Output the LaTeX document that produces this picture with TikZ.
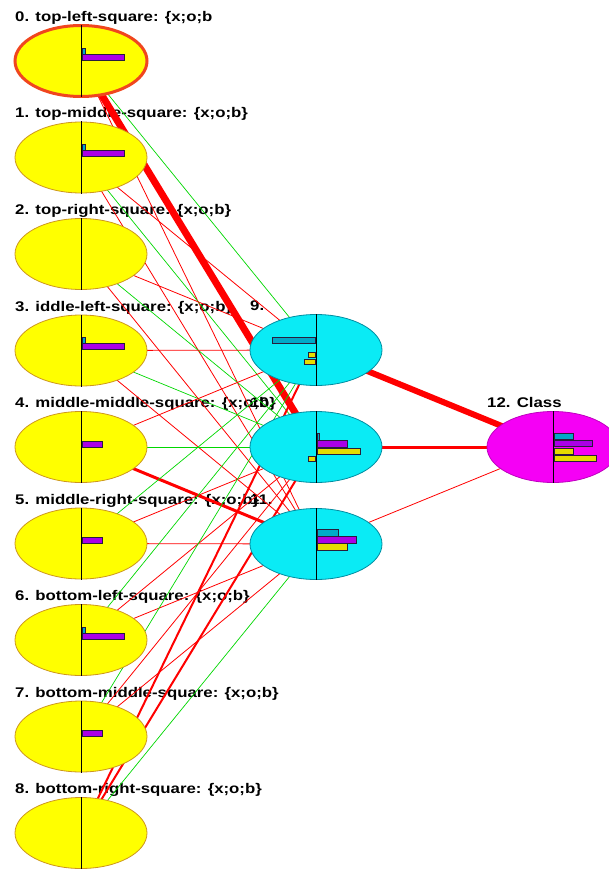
\documentclass[tikz,border=0pt]{standalone}
\usepackage{fontspec}
\setmainfont{Liberation Sans}[FakeStretch=1.2]
\usetikzlibrary{shapes.geometric, calc}
\pgfdeclarelayer{labels}
\pgfdeclarelayer{edges}
\pgfsetlayers{labels,edges,main}

\begin{document}
\begin{tikzpicture}[x=1pt,y=-1pt]
\definecolor{nodeyellow}{RGB}{255,255,0}
\definecolor{rimyellow}{RGB}{205,150,30}
\definecolor{nodecyan}{RGB}{10,235,245}
\definecolor{rimcyan}{RGB}{0,140,160}
\definecolor{nodemagenta}{RGB}{245,0,245}
\definecolor{rimmagenta}{RGB}{190,0,190}
\definecolor{rimselect}{RGB}{240,70,30}
\definecolor{barteal}{RGB}{0,170,200}
\definecolor{barpurple}{RGB}{170,0,230}
\definecolor{baryellow}{RGB}{230,220,0}
\definecolor{barline}{RGB}{40,30,60}
\definecolor{wred}{RGB}{255,0,0}
\definecolor{wgreen}{RGB}{0,215,0}
\useasboundingbox (0,0) rectangle (608,869);
\tikzstyle{unit}=[ellipse, minimum width=132pt, minimum height=71pt, inner sep=0pt]
\tikzstyle{inputunit}=[unit, fill=nodeyellow, draw=rimyellow, line width=0.8pt]
\tikzstyle{hiddenunit}=[unit, fill=nodecyan, draw=rimcyan, line width=0.8pt]
\tikzstyle{classunit}=[unit, fill=nodemagenta, draw=rimmagenta, line width=0.8pt]
\tikzstyle{caption}=[anchor=base west, inner sep=0pt,
                     font=\bfseries\fontsize{14}{16}\selectfont]
\tikzstyle{wneg}=[draw=wred, line width=0.8pt]
\tikzstyle{wnegA}=[draw=wred, line width=7pt]
\tikzstyle{wnegB}=[draw=wred, line width=3pt]
\tikzstyle{wnegC}=[draw=wred, line width=2pt]
\tikzstyle{wpos}=[draw=wgreen, line width=0.7pt]
\tikzstyle{bar}=[draw=barline, line width=0.6pt]

\node[inputunit, draw=rimselect, line width=3pt] (in0) at (81,61) {};
\foreach \i in {1,...,8} {
	\node[inputunit] (in\i) at (81,{61+96.5*\i}) {};
}
\node[hiddenunit] (hid9) at (316,350) {};
\node[hiddenunit] (hid10) at (316,447) {};
\node[hiddenunit] (hid11) at (316,544) {};
\node[classunit] (cls) at (553,447) {};

\begin{pgfonlayer}{labels}
\foreach \i/\txt in {0/{0. top-left-square: \{x;o;b},
                     1/{1. top-middle-square: \{x;o;b\}},
                     2/{2. top-right-square: \{x;o;b\}},
                     3/{3. iddle-left-square: \{x;o;b\}},
                     4/{4. middle-middle-square: \{x;o;b\}},
                     5/{5. middle-right-square: \{x;o;b\}},
                     6/{6. bottom-left-square: \{x;o;b\}},
                     7/{7. bottom-middle-square: \{x;o;b\}},
                     8/{8. bottom-right-square: \{x;o;b\}}} {
	\node[caption] (cap\i) at (15,{21.5+96.5*\i}) {\txt};
}
\node[caption] (cap9) at (250,310.5) {9.};
\node[caption] (cap10) at (250,407.5) {10.};
\node[caption] (cap11) at (250,504.5) {11.};
\node[caption] (cap12) at (487,407.5) {12. Class};
\end{pgfonlayer}

\begin{pgfonlayer}{edges}
\foreach \i/\j/\w in {0/9/wpos, 0/10/wnegA, 0/11/wneg,
                      1/9/wneg, 1/10/wpos, 1/11/wneg,
                      2/9/wneg, 2/10/wpos, 2/11/wneg,
                      3/9/wneg, 3/10/wpos, 3/11/wneg,
                      4/9/wneg, 4/10/wpos, 4/11/wnegB,
                      5/9/wpos, 5/10/wneg, 5/11/wneg,
                      6/9/wpos, 6/10/wneg, 6/11/wneg,
                      7/9/wpos, 7/10/wneg, 7/11/wneg,
                      8/9/wnegC, 8/10/wnegC, 8/11/wpos} {
	\draw[\w] (in\i.center) -- (hid\j.center);
}
\draw[wred, line width=6pt] (hid9.center) -- (cls.center);
\draw[wred, line width=3pt] (hid10.center) -- (cls.center);
\draw[wred, line width=0.8pt] (hid11.center) -- (cls.center);
\end{pgfonlayer}

\foreach \n in {in0,in1,in2,in3,in4,in5,in6,in7,in8,hid9,hid10,hid11,cls} {
	\draw[black, line width=1pt] (\n.center) ++(0,-36) -- ++(0,72);
}
\foreach \n in {0,1,3,6} {
	\draw[bar, fill=barteal] ($(in\n.center)+(1,-13)$) rectangle ++(3,6);
	\draw[bar, fill=barpurple] ($(in\n.center)+(1,-7)$) rectangle ++(42,6);
}
\foreach \n in {4,5,7} {
	\draw[bar, fill=barpurple] ($(in\n.center)+(1,-6)$) rectangle ++(20,6);
}
\draw[bar, fill=barteal] ($(hid9.center)+(-44,-13)$) rectangle ++(43,6);
\draw[bar, fill=baryellow] ($(hid9.center)+(-8,2)$) rectangle ++(7,5);
\draw[bar, fill=baryellow] ($(hid9.center)+(-12,9)$) rectangle ++(11,5);
\draw[bar, fill=barteal] ($(hid10.center)+(1,-14)$) rectangle ++(2,7);
\draw[bar, fill=barpurple] ($(hid10.center)+(1,-7)$) rectangle ++(30,7);
\draw[bar, fill=baryellow] ($(hid10.center)+(1,1)$) rectangle ++(43,6);
\draw[bar, fill=baryellow] ($(hid10.center)+(-8,9)$) rectangle ++(7,5);
\draw[bar, fill=barteal] ($(hid11.center)+(1,-15)$) rectangle ++(21,7);
\draw[bar, fill=barpurple] ($(hid11.center)+(1,-8)$) rectangle ++(39,7);
\draw[bar, fill=baryellow] ($(hid11.center)+(1,-1)$) rectangle ++(30,7);
\draw[bar, fill=barteal] ($(cls.center)+(1,-14)$) rectangle ++(19,6);
\draw[bar, fill=barpurple] ($(cls.center)+(1,-7)$) rectangle ++(38,6);
\draw[bar, fill=baryellow] ($(cls.center)+(1,1)$) rectangle ++(19,6);
\draw[bar, fill=baryellow] ($(cls.center)+(1,8)$) rectangle ++(42,6);

\end{tikzpicture}
\end{document}
